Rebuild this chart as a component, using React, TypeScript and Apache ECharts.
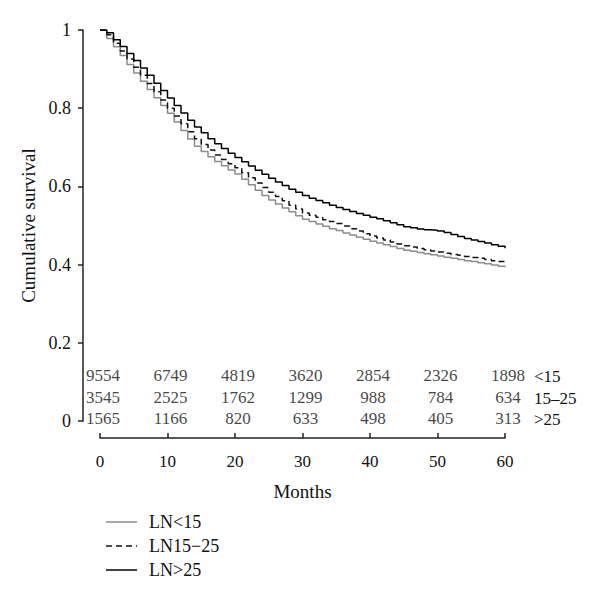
import React, { useEffect, useRef } from "react";
import * as echarts from "echarts";

const months = Array.from({ length: 61 }, (_, i) => i);

const lnLow = [
  1.0, 0.978, 0.957, 0.935, 0.912, 0.89, 0.869, 0.848, 0.827, 0.807, 0.787,
  0.765, 0.743, 0.721, 0.703, 0.689, 0.676, 0.664, 0.653, 0.642, 0.632,
  0.618, 0.604, 0.59, 0.577, 0.565, 0.555, 0.545, 0.535, 0.525, 0.516,
  0.51, 0.504, 0.498, 0.492, 0.487, 0.481, 0.476, 0.47, 0.465, 0.46,
  0.455, 0.451, 0.446, 0.441, 0.437, 0.434, 0.431, 0.428, 0.425, 0.422,
  0.419, 0.416, 0.413, 0.41, 0.408, 0.405, 0.402, 0.399, 0.396, 0.393,
];

const lnMid = [
  1.0, 0.988, 0.966, 0.946, 0.926, 0.905, 0.884, 0.863, 0.842, 0.821, 0.8,
  0.78, 0.76, 0.74, 0.722, 0.707, 0.693, 0.68, 0.669, 0.658, 0.648,
  0.635, 0.622, 0.609, 0.597, 0.585, 0.574, 0.563, 0.552, 0.542, 0.532,
  0.526, 0.521, 0.515, 0.51, 0.505, 0.499, 0.492, 0.486, 0.479, 0.473,
  0.468, 0.463, 0.458, 0.453, 0.448, 0.445, 0.441, 0.438, 0.435, 0.432,
  0.429, 0.426, 0.424, 0.421, 0.418, 0.416, 0.413, 0.41, 0.408, 0.405,
];

const lnHigh = [
  1.0, 0.993, 0.975, 0.958, 0.94, 0.922, 0.903, 0.884, 0.864, 0.845, 0.826,
  0.807, 0.788, 0.769, 0.752, 0.737, 0.722, 0.709, 0.697, 0.685, 0.674,
  0.663, 0.652, 0.641, 0.631, 0.621, 0.611, 0.602, 0.593, 0.585, 0.577,
  0.57, 0.564, 0.558, 0.552, 0.546, 0.541, 0.536, 0.531, 0.526, 0.521,
  0.517, 0.512, 0.507, 0.502, 0.497, 0.494, 0.491, 0.489, 0.488, 0.486,
  0.482, 0.477, 0.472, 0.467, 0.463, 0.459, 0.455, 0.451, 0.447, 0.442,
];

const seriesNames = ["LN<15", "LN15\u221225", "LN>25"];
const riskMonths = [0, 10, 20, 30, 40, 50, 60];
const riskLow = [9554, 6749, 4819, 3620, 2854, 2326, 1898];
const riskMid = [3545, 2525, 1762, 1299, 988, 784, 634];
const riskHigh = [1565, 1166, 820, 633, 498, 405, 313];
const riskGroupLabels = ["<15", "15\u201325", ">25"];
const yTicks = [0, 0.2, 0.4, 0.6, 0.8, 1];

const FONT = "'Liberation Serif', 'DejaVu Serif', serif";
const FS = 17;
const FS_TEXT = 19;
// vertical positions (data units) of the number-at-risk rows
const RISK_ROW_Y = [0.117, 0.061, 0.006];

const COLORS = ["#8c8c8c", "#111", "#000"];
const DASHES: any[] = ["solid", [6, 4], "solid"];

export default function App() {
  const ref = useRef<HTMLDivElement>(null);

  useEffect(() => {
    if (!ref.current) return;
    const chart = echarts.init(ref.current, null, { renderer: "svg" });

    const mk = (arr: number[]) => months.map((m, i) => [m, arr[i]]);
    const riskRows = [riskLow, riskMid, riskHigh];

    const riskSeries = riskRows.map((row, r) => ({
      type: "scatter",
      name: "risk" + r,
      symbolSize: 0,
      silent: true,
      itemStyle: { color: "transparent" },
      data: riskMonths.map((m, i) => [m, RISK_ROW_Y[r], row[i]]),
      label: {
        show: true,
        position: "inside",
        offset: [3, 0],
        formatter: (p: any) => String(p.value[2]),
        color: "#111",
        fontFamily: FONT,
        fontSize: FS,
      },
      z: 5,
    }));

    const lineBase = {
      type: "line",
      step: "end",
      symbol: "none",
      showSymbol: false,
      silent: true,
    };

    const legendRowsY = [522, 546, 570];
    const legendGraphics: any[] = [];
    seriesNames.forEach((n, i) => {
      legendGraphics.push({
        type: "line",
        silent: true,
        shape: { x1: 106, y1: legendRowsY[i], x2: 137, y2: legendRowsY[i] },
        style: {
          stroke: COLORS[i],
          lineWidth: 1.5,
          lineDash: DASHES[i] === "solid" ? null : DASHES[i],
        },
      });
      legendGraphics.push({
        type: "text",
        silent: true,
        x: 149,
        y: legendRowsY[i],
        style: {
          text: n,
          font: `18px ${FONT}`,
          fill: "#111",
          verticalAlign: "middle",
          textAlign: "left",
        },
      });
    });

    const groupGraphics = riskGroupLabels.map((t, r) => ({
      type: "text",
      silent: true,
      x: 534,
      y: [376, 398, 419][r],
      style: { text: t, font: `${FS}px ${FONT}`, fill: "#111", verticalAlign: "middle" },
    }));

    const option: any = {
      animation: false,
      backgroundColor: "#fff",
      textStyle: { fontFamily: FONT },
      grid: { left: 100, right: 95, top: 30, bottom: 180, containLabel: false },
      xAxis: {
        type: "value",
        min: 0,
        max: 60,
        interval: 10,
        offset: 17,
        name: "Months",
        nameLocation: "middle",
        nameGap: 44,
        nameTextStyle: { fontFamily: FONT, fontSize: FS_TEXT, color: "#111" },
        axisLine: { show: true, onZero: false, lineStyle: { color: "#222", width: 1.5 } },
        axisTick: { show: true, inside: true, length: 5, lineStyle: { color: "#222", width: 1.5 } },
        axisLabel: {
          margin: 15,
          fontFamily: FONT,
          fontSize: FS,
          color: "#111",
        },
        splitLine: { show: false },
      },
      yAxis: {
        type: "value",
        min: 0,
        max: 1,
        interval: 0.2,
        offset: 17,
        name: "Cumulative survival",
        nameLocation: "middle",
        nameGap: 42,
        nameTextStyle: { fontFamily: FONT, fontSize: FS_TEXT, color: "#111" },
        axisLine: { show: true, onZero: false, lineStyle: { color: "#222", width: 1.5 } },
        axisTick: { show: true, length: 5, lineStyle: { color: "#222", width: 1.5 } },
        axisLabel: {
          margin: 12,
          fontFamily: FONT,
          fontSize: 18,
          color: "#111",
          formatter: (v: number) => {
            const r = Math.round(v * 10) / 10;
            return yTicks.includes(r) ? String(r) : "";
          },
        },
        splitLine: { show: false },
      },
      graphic: [...legendGraphics, ...groupGraphics],
      series: [
        {
          ...lineBase,
          name: seriesNames[0],
          data: mk(lnLow),
          lineStyle: { color: COLORS[0], width: 1.5, type: DASHES[0] },
          z: 2,
        },
        {
          ...lineBase,
          name: seriesNames[1],
          data: mk(lnMid),
          lineStyle: { color: COLORS[1], width: 1.5, type: DASHES[1] },
          z: 3,
        },
        {
          ...lineBase,
          name: seriesNames[2],
          data: mk(lnHigh),
          lineStyle: { color: COLORS[2], width: 1.5, type: DASHES[2] },
          z: 4,
        },
        ...riskSeries,
      ],
    };

    chart.setOption(option);
    return () => chart.dispose();
  }, []);

  return (
    <div
      ref={ref}
      style={{ position: "absolute", left: 0, top: 0, width: 600, height: 601, background: "#fff" }}
    />
  );
}
